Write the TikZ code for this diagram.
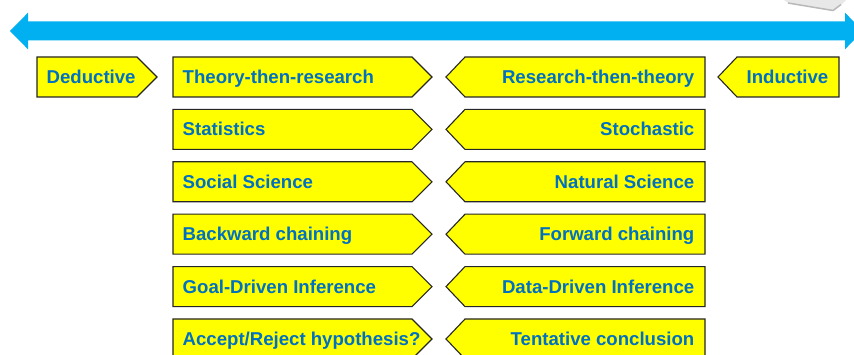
\documentclass[tikz,border=0pt]{standalone}
\usepackage{fontspec}
\setmainfont{Liberation Sans}
\definecolor{arrowblue}{HTML}{00B0F0}
\definecolor{textblue}{HTML}{0070C0}
\definecolor{boxyellow}{HTML}{FFFF00}
\tikzset{
  box/.style={fill=boxyellow, draw=black!85, line width=1.1pt, line join=miter},
  lbl/.style={text=textblue, font=\fontsize{18.6}{20}\selectfont\bfseries, inner sep=0pt},
}
% box pointing right: name, x left, x tip, y top, text
\newcommand\PtRight[5]{%
  \draw[box] (#2,#4) -- ({#3-20},#4) -- (#3,{#4+20}) -- ({#3-20},{#4+40}) -- (#2,{#4+40}) -- cycle;
  \node[lbl, anchor=base west] (#1) at ({#2+9.5},{#4+26.6}) {#5};}
% box pointing left: name, x tip, x right, y top, text
\newcommand\PtLeft[5]{%
  \draw[box] (#2,{#4+20}) -- ({#2+19},#4) -- (#3,#4) -- (#3,{#4+40}) -- ({#2+19},{#4+40}) -- cycle;
  \node[lbl, anchor=base east] (#1) at ({#3-10.5},{#4+26.6}) {#5};}
\begin{document}
\begin{tikzpicture}[x=1pt,y=-1pt]
\useasboundingbox (0,0) rectangle (854,355);
\clip (0,0) rectangle (854,355);
% grey object, top right
\fill[gray!18] (784,0) -- (788,3) -- (833,11) -- (841,5) -- (846,0) -- cycle;
\draw[gray!55, line width=1.5pt] (788,3) -- (833,10.5) -- (841,4.5);
% double arrow
\fill[arrowblue] (10,31) -- (28,12.7) -- (28,21.3) -- (845,21.3) -- (845,12.7) -- (863,31)
  -- (845,49.3) -- (845,40.3) -- (28,40.3) -- (28,49.3) -- cycle;
% boxes
\PtRight{ded}{37}{157}{57}{Deductive}
\PtLeft{ind}{718}{839}{57}{Inductive}
\PtRight{l1}{173}{432}{57}{Theory-then-research}
\PtRight{l2}{173}{432}{109.4}{Statistics}
\PtRight{l3}{173}{432}{161.8}{Social Science}
\PtRight{l4}{173}{432}{214.2}{Backward chaining}
\PtRight{l5}{173}{432}{266.6}{Goal-Driven Inference}
\PtRight{l6}{173}{432}{319}{Accept/Reject hypothesis?}
\PtLeft{r1}{446}{705}{57}{Research-then-theory}
\PtLeft{r2}{446}{705}{109.4}{Stochastic}
\PtLeft{r3}{446}{705}{161.8}{Natural Science}
\PtLeft{r4}{446}{705}{214.2}{Forward chaining}
\PtLeft{r5}{446}{705}{266.6}{Data-Driven Inference}
\PtLeft{r6}{446}{705}{319}{Tentative conclusion}
\end{tikzpicture}
\end{document}
